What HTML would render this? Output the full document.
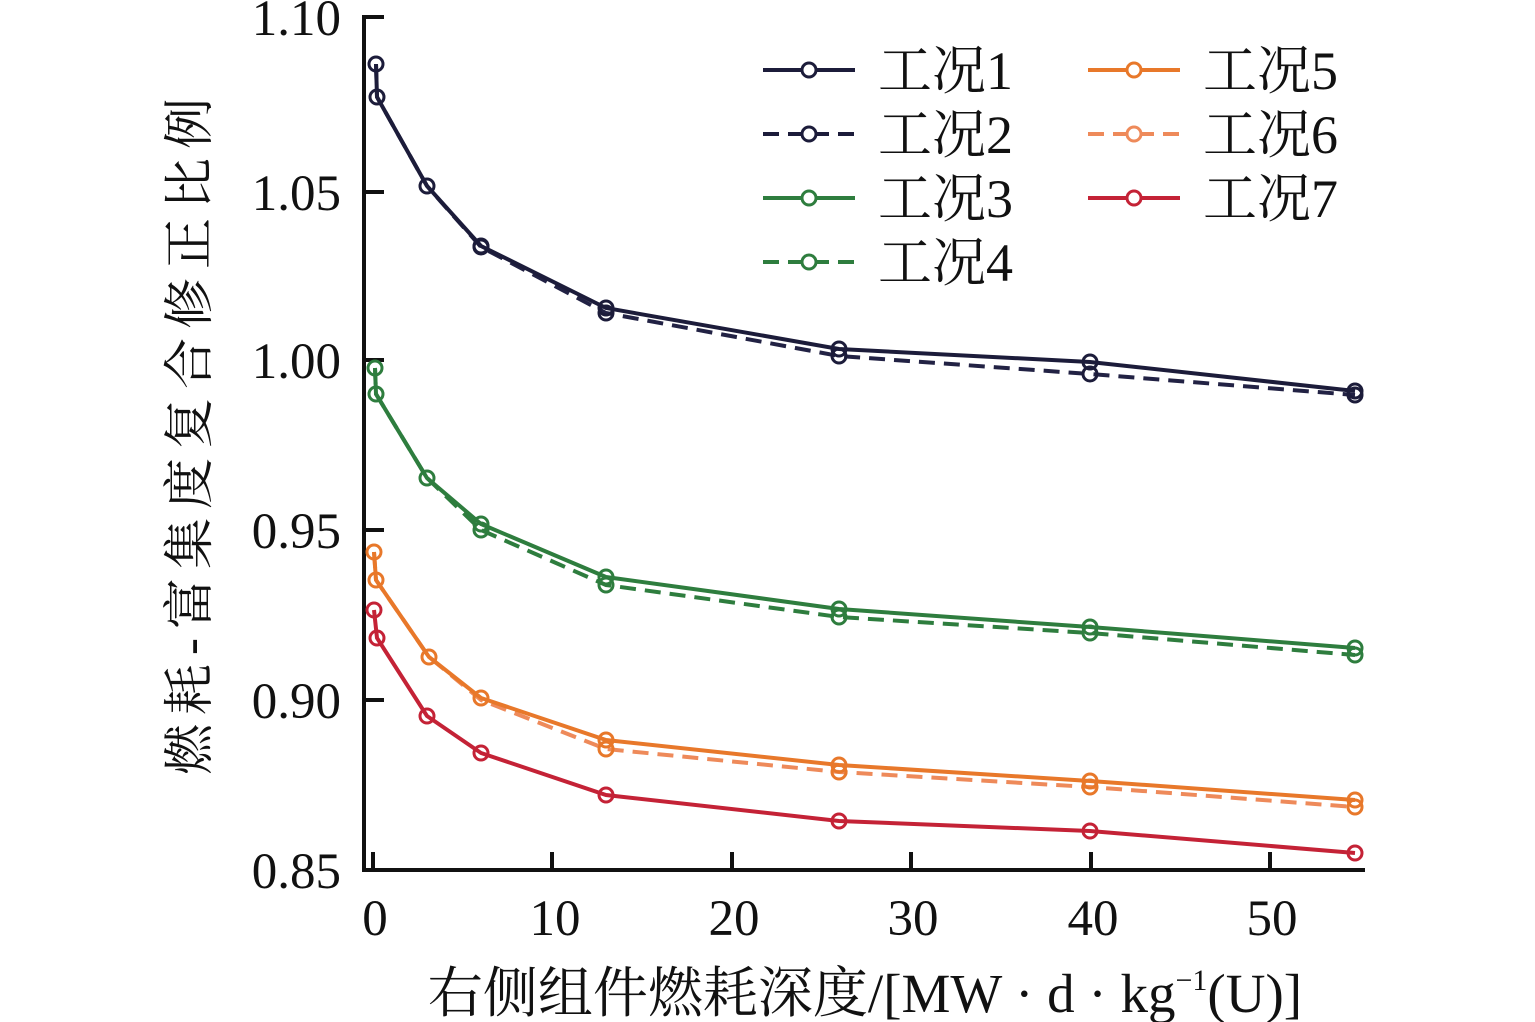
<!DOCTYPE html>
<html><head><meta charset="utf-8"><style>
html,body{margin:0;padding:0;background:#fff;}
svg{display:block;}
text{font-family:"Liberation Serif","Noto Serif CJK SC",serif;fill:#111;}
</style></head><body>
<svg width="1535" height="1022" viewBox="0 0 1535 1022" xmlns="http://www.w3.org/2000/svg">
<g stroke="#111" stroke-width="4" fill="none">
<line x1="364" y1="15" x2="364" y2="872"/>
<line x1="362" y1="870" x2="1365" y2="870"/>
<line x1="364" y1="17" x2="384" y2="17"/>
<line x1="364" y1="192" x2="384" y2="192"/>
<line x1="364" y1="360" x2="384" y2="360"/>
<line x1="364" y1="530" x2="384" y2="530"/>
<line x1="364" y1="700" x2="384" y2="700"/>
<line x1="373" y1="870" x2="373" y2="852"/>
<line x1="552" y1="870" x2="552" y2="852"/>
<line x1="732" y1="870" x2="732" y2="852"/>
<line x1="911" y1="870" x2="911" y2="852"/>
<line x1="1091" y1="870" x2="1091" y2="852"/>
<line x1="1270" y1="870" x2="1270" y2="852"/>
</g>
<g font-size="51" text-anchor="end">
<text x="341" y="35">1.10</text>
<text x="341" y="210">1.05</text>
<text x="341" y="378">1.00</text>
<text x="341" y="548">0.95</text>
<text x="341" y="718">0.90</text>
<text x="341" y="888">0.85</text>
</g>
<g font-size="51" text-anchor="middle">
<text x="375" y="935">0</text>
<text x="555" y="935">10</text>
<text x="734" y="935">20</text>
<text x="913" y="935">30</text>
<text x="1093" y="935">40</text>
<text x="1272" y="935">50</text>
</g>
<text x="865" y="1012" font-size="55" text-anchor="middle">右侧组件燃耗深度/[MW · d · kg<tspan font-size="30" dy="-22">−1</tspan><tspan dy="22">(U)]</tspan></text>
<text transform="translate(207,432) rotate(-90)" font-size="51" letter-spacing="9" text-anchor="middle">燃耗-富集度复合修正比例</text>

<g fill="none" stroke-width="4">
<polyline stroke="#222244" stroke-dasharray="16,9" points="376,64 377,97 427,186 481,247 606,313 839,356 1090,374 1355,395"/>
<polyline stroke="#1c1c3a" points="376,64 377,97 427,186 481,246 606,308 839,349 1090,362 1355,391"/>
<polyline stroke="#2e7d3e" stroke-dasharray="16,9" points="375,368 376,394 427,478 481,530 606,585 839,617 1090,633 1355,655"/>
<polyline stroke="#2e7d3e" points="375,368 376,394 427,478 481,524 606,577 839,609 1090,627 1355,648"/>
<polyline stroke="#ee8a5a" stroke-dasharray="16,9" points="374,552 376,580 429,657 481,700 606,749 839,772 1090,787 1355,807"/>
<polyline stroke="#e8782a" points="374,552 376,580 429,657 481,698 606,740 839,765 1090,781 1355,800"/>
<polyline stroke="#c42236" points="374,610 377,638 427,716 481,753 606,795 839,821 1090,831 1355,853"/>
</g>
<g fill="none" stroke-width="3">
<g stroke="#1c1c3a">
<circle cx="376" cy="64" r="7"/><circle cx="377" cy="97" r="7"/><circle cx="427" cy="186" r="7"/><circle cx="481" cy="246" r="7"/><circle cx="606" cy="308" r="7"/><circle cx="839" cy="349" r="7"/><circle cx="1090" cy="362" r="7"/><circle cx="1355" cy="391" r="7"/>
<circle cx="481" cy="247" r="7"/><circle cx="606" cy="313" r="7"/><circle cx="839" cy="356" r="7"/><circle cx="1090" cy="374" r="7"/><circle cx="1355" cy="395" r="7"/>
</g>
<g stroke="#2e7d3e">
<circle cx="375" cy="368" r="7"/><circle cx="376" cy="394" r="7"/><circle cx="427" cy="478" r="7"/><circle cx="481" cy="524" r="7"/><circle cx="606" cy="577" r="7"/><circle cx="839" cy="609" r="7"/><circle cx="1090" cy="627" r="7"/><circle cx="1355" cy="648" r="7"/>
<circle cx="481" cy="530" r="7"/><circle cx="606" cy="585" r="7"/><circle cx="839" cy="617" r="7"/><circle cx="1090" cy="633" r="7"/><circle cx="1355" cy="655" r="7"/>
</g>
<g stroke="#e8782a">
<circle cx="374" cy="552" r="7"/><circle cx="376" cy="580" r="7"/><circle cx="429" cy="657" r="7"/><circle cx="481" cy="698" r="7"/><circle cx="606" cy="740" r="7"/><circle cx="839" cy="765" r="7"/><circle cx="1090" cy="781" r="7"/><circle cx="1355" cy="800" r="7"/>
<circle cx="606" cy="749" r="7"/><circle cx="839" cy="772" r="7"/><circle cx="1090" cy="787" r="7"/><circle cx="1355" cy="807" r="7"/>
</g>
<g stroke="#c42236">
<circle cx="374" cy="610" r="7"/><circle cx="377" cy="638" r="7"/><circle cx="427" cy="716" r="7"/><circle cx="481" cy="753" r="7"/><circle cx="606" cy="795" r="7"/><circle cx="839" cy="821" r="7"/><circle cx="1090" cy="831" r="7"/><circle cx="1355" cy="853" r="7"/>
</g>
</g>
<g stroke-width="4" fill="none">
<line x1="763" y1="70" x2="855" y2="70" stroke="#1c1c3a"/><circle cx="809" cy="70" r="7" stroke="#1c1c3a" fill="#fff" stroke-width="3"/>
<line x1="763" y1="134" x2="855" y2="134" stroke="#1c1c3a" stroke-dasharray="16,9"/><circle cx="809" cy="134" r="7" stroke="#1c1c3a" fill="#fff" stroke-width="3"/>
<line x1="763" y1="198" x2="855" y2="198" stroke="#2e7d3e"/><circle cx="809" cy="198" r="7" stroke="#2e7d3e" fill="#fff" stroke-width="3"/>
<line x1="763" y1="262" x2="855" y2="262" stroke="#2e7d3e" stroke-dasharray="16,9"/><circle cx="809" cy="262" r="7" stroke="#2e7d3e" fill="#fff" stroke-width="3"/>
<line x1="1088" y1="70" x2="1180" y2="70" stroke="#e8782a"/><circle cx="1134" cy="70" r="7" stroke="#e8782a" fill="#fff" stroke-width="3"/>
<line x1="1088" y1="134" x2="1180" y2="134" stroke="#ee8a5a" stroke-dasharray="16,9"/><circle cx="1134" cy="134" r="7" stroke="#ee8a5a" fill="#fff" stroke-width="3"/>
<line x1="1088" y1="198" x2="1180" y2="198" stroke="#c42236"/><circle cx="1134" cy="198" r="7" stroke="#c42236" fill="#fff" stroke-width="3"/>
</g>
<g font-size="54">
<text x="878" y="89">工况1</text>
<text x="878" y="153">工况2</text>
<text x="878" y="217">工况3</text>
<text x="878" y="281">工况4</text>
<text x="1203" y="89">工况5</text>
<text x="1203" y="153">工况6</text>
<text x="1203" y="217">工况7</text>
</g>
</svg>
</body></html>
